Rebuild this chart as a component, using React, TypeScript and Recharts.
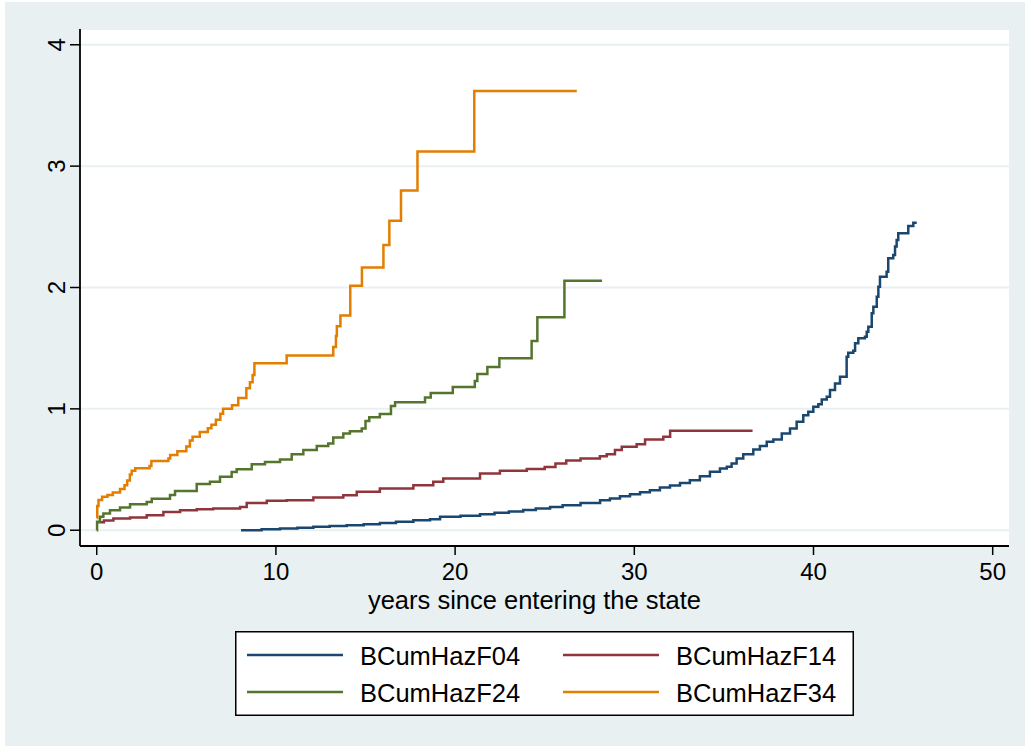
import React from 'react';
import { LineChart, Line, XAxis, YAxis, CartesianGrid, Legend } from 'recharts';

const xTicks = [0, 10, 20, 30, 40, 50];
const yTicks = [0, 1, 2, 3, 4];
const xTitle = 'years since entering the state';
const seriesNames = ['BCumHazF04', 'BCumHazF14', 'BCumHazF24', 'BCumHazF34'];
const seriesColors = ['#1a476f', '#90353b', '#55752f', '#e37e00'];

// BCumHazF04
const f04T = [8.05, 9.2, 10.23, 11.2, 12.09, 13.0, 13.95, 14.9, 15.8, 16.7, 17.67, 18.6, 19.16, 20.3, 21.39, 22.2, 23.0, 23.8, 24.5, 25.3, 26.0, 27.0, 28.09, 28.64, 29.2, 29.76, 30.32, 30.87, 31.43, 31.99, 32.55, 33.1, 33.66, 34.22, 34.78, 35.16, 35.43, 35.71, 36.08, 36.64, 37.01, 37.39, 37.76, 38.23, 38.69, 39.06, 39.43, 39.71, 39.99, 40.27, 40.46, 40.74, 40.92, 41.2, 41.48, 41.85, 41.94, 42.22, 42.32, 42.5, 42.87, 42.97, 43.06, 43.25, 43.34, 43.53, 43.62, 43.71, 44.08, 44.17, 44.45, 44.55, 44.64, 44.73, 45.29, 45.57, 45.76];
const f04V = [0, 0.007, 0.014, 0.021, 0.028, 0.034, 0.04, 0.05, 0.06, 0.07, 0.082, 0.09, 0.11, 0.12, 0.132, 0.143, 0.155, 0.167, 0.18, 0.192, 0.205, 0.225, 0.247, 0.261, 0.28, 0.297, 0.313, 0.33, 0.352, 0.368, 0.39, 0.412, 0.445, 0.481, 0.509, 0.522, 0.55, 0.591, 0.627, 0.665, 0.693, 0.728, 0.748, 0.797, 0.838, 0.893, 0.948, 0.976, 1.017, 1.039, 1.078, 1.099, 1.155, 1.21, 1.264, 1.43, 1.462, 1.479, 1.54, 1.581, 1.595, 1.636, 1.677, 1.787, 1.842, 1.924, 2.007, 2.089, 2.13, 2.24, 2.268, 2.337, 2.392, 2.447, 2.507, 2.534, 2.534];

// BCumHazF14
const f14T = [0, 0.4, 0.93, 1.86, 2.79, 3.72, 4.65, 5.58, 6.5, 8.0, 8.37, 9.49, 10.6, 12.09, 13.76, 14.51, 15.8, 17.67, 18.78, 19.34, 21.39, 22.5, 24.0, 25.0, 25.6, 26.2, 27.0, 28.08, 28.46, 28.92, 29.3, 30.13, 30.6, 31.62, 32.0, 36.6];
const f14V = [0.065, 0.08, 0.096, 0.105, 0.124, 0.151, 0.165, 0.173, 0.179, 0.192, 0.225, 0.242, 0.247, 0.27, 0.289, 0.316, 0.344, 0.371, 0.4, 0.426, 0.467, 0.49, 0.505, 0.52, 0.55, 0.575, 0.59, 0.61, 0.627, 0.66, 0.687, 0.709, 0.748, 0.77, 0.82, 0.82];

// BCumHazF24
const f24T = [0, 0.02, 0.18, 0.37, 0.74, 1.3, 1.86, 2.79, 3.07, 4.09, 4.37, 5.58, 6.32, 6.88, 7.53, 7.81, 8.65, 9.39, 10.23, 10.88, 11.53, 12.28, 12.92, 13.2, 13.76, 14.13, 14.79, 15.0, 15.21, 15.8, 16.42, 16.65, 18.32, 18.64, 19.87, 21.1, 21.24, 21.8, 22.47, 24.27, 24.59, 26.1, 28.2];
const f24V = [0, 0.07, 0.11, 0.137, 0.165, 0.187, 0.214, 0.233, 0.26, 0.29, 0.324, 0.38, 0.4, 0.44, 0.48, 0.503, 0.544, 0.563, 0.583, 0.627, 0.66, 0.695, 0.715, 0.764, 0.797, 0.816, 0.838, 0.9, 0.93, 0.957, 1.023, 1.055, 1.094, 1.13, 1.18, 1.23, 1.287, 1.344, 1.418, 1.56, 1.754, 2.056, 2.056];

// BCumHazF34
const f34T = [0, 0.03, 0.1, 0.3, 0.6, 0.9, 1.3, 1.55, 1.7, 1.85, 1.95, 2.15, 2.95, 3.05, 4.0, 4.1, 4.5, 5.0, 5.2, 5.35, 5.75, 6.2, 6.4, 6.65, 6.9, 7.05, 7.55, 7.9, 8.35, 8.55, 8.7, 8.8, 10.6, 13.2, 13.35, 13.4, 13.6, 14.15, 14.8, 16.0, 16.33, 16.98, 17.9, 21.07, 26.79];
const f34V = [0.1, 0.2, 0.25, 0.275, 0.29, 0.31, 0.34, 0.37, 0.41, 0.46, 0.49, 0.51, 0.53, 0.57, 0.59, 0.62, 0.65, 0.69, 0.74, 0.77, 0.81, 0.84, 0.87, 0.91, 0.96, 1.0, 1.03, 1.09, 1.17, 1.22, 1.28, 1.375, 1.44, 1.51, 1.6, 1.68, 1.77, 2.015, 2.165, 2.35, 2.55, 2.8, 3.12, 3.62, 3.62];

const toRows = (ts: number[], vs: number[]) => ts.map((t, i) => ({ t, v: vs[i] }));
const seriesData = [toRows(f04T, f04V), toRows(f14T, f14V), toRows(f24T, f24V), toRows(f34T, f34V)];

const FONT = '"Liberation Sans", Arial, Helvetica, sans-serif';
const BG = '#e8f0f2';

const YTick = (props: any) => {
  const { x, y, payload } = props;
  return (
    <text x={x} y={y} transform={`rotate(-90 ${x} ${y})`} textAnchor="middle" fontSize={24} fontFamily={FONT} fill="#000">
      {payload.value}
    </text>
  );
};

const XTick = (props: any) => {
  const { x, y, payload } = props;
  return (
    <text x={x} y={y} dy={17} textAnchor="middle" fontSize={24} fontFamily={FONT} fill="#000">
      {payload.value}
    </text>
  );
};

const XTitle = (props: any) => {
  const vb = props.viewBox || { x: 80, y: 546, width: 929, height: 60 };
  return (
    <text x={vb.x + vb.width / 2 - 10} y={vb.y + 63} textAnchor="middle" fontSize={25.5} fontFamily={FONT} fill="#000">
      {xTitle}
    </text>
  );
};

const LegendBox = (props: any) => {
  const payload = (props.payload && props.payload.length ? props.payload : seriesNames.map((n, i) => ({ value: n, color: seriesColors[i] })));
  return (
    <svg width={619} height={85} style={{ display: 'block' }}>
      <rect x={0.75} y={0.75} width={617.5} height={83.5} fill="#fff" stroke="#000" strokeWidth={1.5} />
      {payload.map((p: any, i: number) => {
        const col = i % 2;
        const row = Math.floor(i / 2);
        const lx = col === 0 ? 12 : 328;
        const ly = row === 0 ? 24 : 61;
        return (
          <g key={p.value}>
            <line x1={lx} x2={lx + 96} y1={ly} y2={ly} stroke={p.color} strokeWidth={2.5} />
            <text x={lx + 113} y={ly + 10} fontSize={25.5} fontFamily={FONT} fill="#000">{p.value}</text>
          </g>
        );
      })}
    </svg>
  );
};

export default function App() {
  return (
    <div style={{ position: 'absolute', left: 0, top: 0, width: 1025, height: 748, background: '#fff', overflow: 'hidden' }}>
      <div style={{ position: 'absolute', left: 5, top: 2, width: 1020, height: 744, background: BG }} />
      <div style={{ position: 'absolute', left: 0, top: 0 }}>
        <LineChart width={1025} height={748} margin={{ top: 29, right: 16, bottom: 142, left: 20 }}>
          <CartesianGrid vertical={false} horizontal={true} stroke={BG} strokeWidth={2} fill="#fff" fillOpacity={1} />
          <XAxis
            type="number"
            dataKey="t"
            domain={[-0.933, 50.91]}
            ticks={xTicks}
            allowDataOverflow
            height={60}
            axisLine={{ stroke: '#000', strokeWidth: 1.8 }}
            tickLine={{ stroke: '#000', strokeWidth: 1.5 }}
            tickSize={9}
            tickMargin={8}
            tick={<XTick />}
            label={<XTitle />}
            interval={0}
          />
          <YAxis
            type="number"
            dataKey="v"
            domain={[-0.13, 4.13]}
            ticks={yTicks}
            allowDataOverflow
            width={60}
            axisLine={{ stroke: '#000', strokeWidth: 1.8 }}
            tickLine={{ stroke: '#000', strokeWidth: 1.5 }}
            tickSize={10}
            tickMargin={5}
            tick={<YTick />}
            interval={0}
          />
          {seriesData.map((d, i) => (
            <Line
              key={seriesNames[i]}
              data={d}
              dataKey="v"
              name={seriesNames[i]}
              type="stepAfter"
              stroke={seriesColors[i]}
              strokeWidth={2.5}
              dot={false}
              activeDot={false}
              isAnimationActive={false}
            />
          ))}
          <Legend
            layout="horizontal"
            verticalAlign="middle"
            align="center"
            content={<LegendBox />}
            wrapperStyle={{ left: 235, top: 631, width: 619, height: 85 }}
          />
        </LineChart>
      </div>
    </div>
  );
}
